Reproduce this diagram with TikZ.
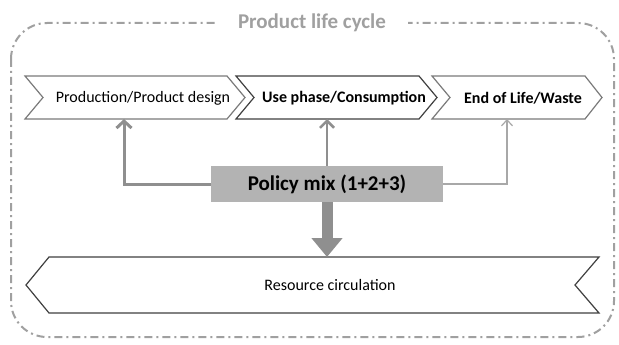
\documentclass[tikz,border=0pt]{standalone}
\usepackage{fontspec}
\setmainfont{Carlito}
\usetikzlibrary{arrows.meta}
\definecolor{outerc}{HTML}{A0A0A0}
\definecolor{titlec}{HTML}{A0A0A0}
\definecolor{boxc}{HTML}{B3B3B3}
\definecolor{arrc}{HTML}{8F8F8F}
\definecolor{arrlight}{HTML}{A8A8A8}
\definecolor{chevc}{HTML}{7A7A7A}
\definecolor{chevdark}{HTML}{404040}
\begin{document}
\begin{tikzpicture}[x=1pt,y=-1pt,
  outerframe/.style={draw=outerc, line width=2pt, rounded corners=36pt,
    dash pattern=on 8pt off 4pt on 2pt off 4pt},
  titlelbl/.style={fill=white, text=titlec, font=\bfseries\fontsize{21}{24}\selectfont,
    inner xsep=22pt, inner ysep=2pt},
  chev/.style={draw=#1, line width=1.2pt, fill=white, line join=miter},
  lbl/.style={font=\fontsize{16}{18}\selectfont, inner sep=0pt},
  blbl/.style={font=\bfseries\fontsize{16}{18}\selectfont, inner sep=0pt},
  policybox/.style={fill=boxc, minimum width=232pt, minimum height=36pt, inner sep=0pt,
    font=\bfseries\fontsize{21}{24}\selectfont},
  arrL/.style={draw=arrc, line width=3pt, -{Straight Barb[length=7pt,width=15pt]}},
  arrM/.style={draw=arrc, line width=2.5pt, -{Straight Barb[length=7pt,width=14pt]}},
  arrR/.style={draw=arrlight, line width=1.2pt, -{Straight Barb[length=6pt,width=11pt]}},
  arrD/.style={draw=arrc, line width=11pt, -{Triangle[length=19pt,width=30pt]}}]
\useasboundingbox (0,0) rectangle (619,345);
\fill[white] (0,0) rectangle (619,345);

% outer frame and title
\draw[outerframe] (11,23) rectangle (614,337);
\node[titlelbl] (title) at (312,23) {Product life cycle};

% top chevrons
\draw[chev=chevc] (25,76) -- (227,76) -- (245,97.5) -- (227,119) -- (25,119) -- (43,97.5) -- cycle;
\draw[chev=chevdark] (236,76) -- (419,76) -- (437,97.5) -- (419,119) -- (236,119) -- (254,97.5) -- cycle;
\draw[chev=chevc] (432,76) -- (585,76) -- (602,97.5) -- (585,119) -- (432,119) -- (450,97.5) -- cycle;
\node[lbl] (prod) at (143,98) {Production/Product design};
\node[blbl] (use) at (344,98) {Use phase/Consumption};
\node[blbl] (eol) at (523,98) {End of Life/Waste};
\coordinate (c1b) at (124,119);
\coordinate (c2b) at (327,119);
\coordinate (c3b) at (507,119);

% resource circulation chevron
\draw[chev=chevdark] (49,257) -- (599,257) -- (575,285) -- (599,313) -- (49,313) -- (26,285) -- cycle;
\node[lbl] (res) at (330,285) {Resource circulation};
\coordinate (rtop) at (327,257);

% policy mix
\node[policybox] (pm) at (327,184) {Policy mix (1+2+3)};

% connectors
\draw[arrL] (pm.west) -| (c1b);
\draw[arrM] (pm.north) -- (c2b);
\draw[arrR] (pm.east) -| (c3b);
\draw[arrD] (pm.south) -- (rtop);
\end{tikzpicture}
\end{document}
